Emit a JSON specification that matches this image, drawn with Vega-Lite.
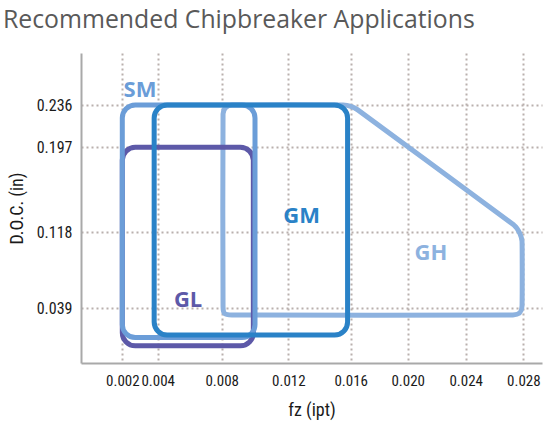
{
  "$schema": "https://vega.github.io/schema/vega-lite/v6.json",
  "width": 461,
  "height": 310,
  "autosize": "none",
  "padding": {"left": 81, "top": 53, "right": 8, "bottom": 62},
  "title": {
    "text": "Recommended Chipbreaker Applications",
    "anchor": "start",
    "frame": "group",
    "dx": -78,
    "font": "Open Sans",
    "fontSize": 24.8,
    "fontWeight": "normal",
    "color": "#595959",
    "offset": 0,
    "baseline": "alphabetic"
  },
  "config": {
    "view": {"stroke": null},
    "axis": {
      "domainColor": "#a9a9a9",
      "domainWidth": 2,
      "ticks": false,
      "grid": true,
      "gridColor": "#b9b0ad",
      "gridDash": [2, 3],
      "gridWidth": 2,
      "labelOverlap": false,
      "labelFont": "Roboto Condensed, Liberation Sans Narrow, Roboto",
      "labelColor": "#1a1a1a",
      "titleFont": "Roboto Condensed, Liberation Sans Narrow, Roboto",
      "titleFontSize": 18,
      "titleFontWeight": "normal",
      "titleColor": "#1a1a1a"
    }
  },
  "datasets": {
    "gh": [
      {"shape": "GH", "i": 1, "fz": 0.00808, "doc": 0.2277},
      {"shape": "GH", "i": 2, "fz": 0.00862, "doc": 0.236},
      {"shape": "GH", "i": 3, "fz": 0.01551, "doc": 0.236},
      {"shape": "GH", "i": 4, "fz": 0.01647, "doc": 0.2317},
      {"shape": "GH", "i": 5, "fz": 0.02735, "doc": 0.1247},
      {"shape": "GH", "i": 6, "fz": 0.02791, "doc": 0.109},
      {"shape": "GH", "i": 7, "fz": 0.02791, "doc": 0.0414},
      {"shape": "GH", "i": 8, "fz": 0.02728, "doc": 0.032},
      {"shape": "GH", "i": 9, "fz": 0.00862, "doc": 0.032},
      {"shape": "GH", "i": 10, "fz": 0.00808, "doc": 0.0414}
    ],
    "boxes": [
      {"shape": "GL", "fz": 0.002, "fz2": 0.0099, "doc": 0.0, "doc2": 0.197},
      {"shape": "SM", "fz": 0.002, "fz2": 0.0100, "doc": 0.0086, "doc2": 0.236},
      {"shape": "GM", "fz": 0.0038, "fz2": 0.0158, "doc": 0.0112, "doc2": 0.236}
    ],
    "labels": [
      {"shape": "SM", "fz": 0.003, "doc": 0.25},
      {"shape": "GM", "fz": 0.01285, "doc": 0.133},
      {"shape": "GL", "fz": 0.0059, "doc": 0.048},
      {"shape": "GH", "fz": 0.0216, "doc": 0.096}
    ]
  },
  "encoding": {
    "x": {
      "field": "fz",
      "type": "quantitative",
      "title": "fz (ipt)",
      "scale": {
        "domain": [0, 0.002, 0.004, 0.008, 0.012, 0.016, 0.02, 0.024, 0.028, 0.0293],
        "range": [0, 41.3, 76.7, 140.7, 207.3, 269.7, 326.7, 384.7, 442.3, 461],
        "nice": false,
        "zero": false
      },
      "axis": {
        "values": [0.002, 0.004, 0.008, 0.012, 0.016, 0.02, 0.024, 0.028],
        "format": ".3f",
        "labelFontSize": 15,
        "labelPadding": 10,
        "titlePadding": 13
      }
    },
    "y": {
      "field": "doc",
      "type": "quantitative",
      "title": "D.O.C. (in)",
      "scale": {
        "domain": [-0.018, 0.039, 0.118, 0.197, 0.236, 0.284],
        "range": [310, 255.3, 179.3, 94.3, 52, 0],
        "nice": false,
        "zero": false
      },
      "axis": {
        "values": [0.039, 0.118, 0.197, 0.236],
        "format": ".3f",
        "labelFontSize": 16,
        "labelPadding": 9,
        "titlePadding": 10
      }
    },
    "color": {
      "field": "shape",
      "type": "nominal",
      "scale": {
        "domain": ["GL", "SM", "GM", "GH"],
        "range": ["#5d59a8", "#6b9dd8", "#2a82c7", "#8db2df"]
      },
      "legend": null
    }
  },
  "layer": [
    {
      "data": {"name": "gh"},
      "mark": {
        "type": "line",
        "interpolate": "cardinal-closed",
        "tension": 0.8,
        "strokeWidth": 5,
        "strokeJoin": "round",
        "strokeCap": "round"
      },
      "encoding": {
        "order": {"field": "i", "type": "quantitative"}
      }
    },
    {
      "data": {"name": "boxes"},
      "mark": {
        "type": "rect",
        "filled": false,
        "strokeWidth": 5,
        "cornerRadius": 13
      },
      "encoding": {
        "x2": {"field": "fz2"},
        "y2": {"field": "doc2"}
      }
    },
    {
      "data": {"name": "labels"},
      "mark": {
        "type": "text",
        "font": "Open Sans",
        "fontSize": 22,
        "fontWeight": "bold",
        "align": "center",
        "baseline": "middle"
      },
      "encoding": {
        "text": {"field": "shape", "type": "nominal"}
      }
    }
  ]
}
